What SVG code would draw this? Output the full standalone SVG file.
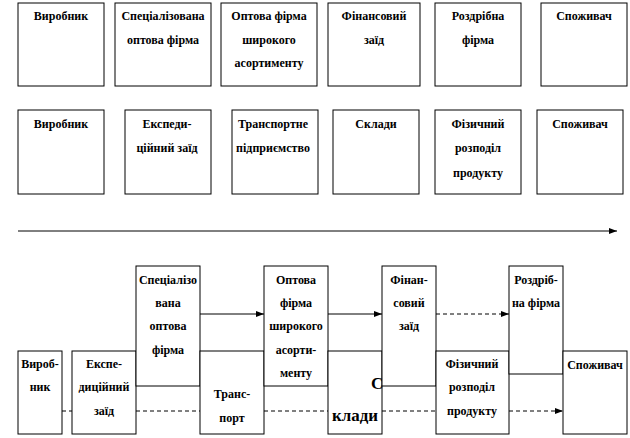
<svg xmlns="http://www.w3.org/2000/svg" width="630" height="438" viewBox="0 0 630 438">
<style>
.b{fill:#fff;stroke:#000;stroke-width:1}
.t{font-family:'Liberation Serif','DejaVu Serif',serif;font-weight:bold;font-size:12px;fill:#000;text-anchor:middle}
.big{font-family:'Liberation Serif','DejaVu Serif',serif;font-weight:bold;font-size:17px;fill:#000}
.c{stroke:#000;stroke-width:1;fill:none}
.d{stroke:#000;stroke-width:1;fill:none;stroke-dasharray:4 3}
</style>
<defs>
<marker id="ah" markerWidth="8" markerHeight="6" refX="8" refY="3" orient="auto" markerUnits="userSpaceOnUse">
<path d="M0,0 L8,3 L0,6 Z" fill="#000"/>
</marker>
</defs>
<rect width="630" height="438" fill="#fff"/>

<!-- Row 1 -->
<g id="r1n1"><rect class="b" x="18" y="3" width="86" height="83"/><text class="t" x="61" y="20">Виробник</text></g>
<g id="r1n2"><rect class="b" x="115" y="3" width="96" height="83"/><text class="t" x="163" y="20">Спеціалізована</text><text class="t" x="163" y="44">оптова фірма</text></g>
<g id="r1n3"><rect class="b" x="221" y="3" width="96" height="83"/><text class="t" x="269" y="20">Оптова фірма</text><text class="t" x="269" y="44">широкого</text><text class="t" x="269" y="67">асортименту</text></g>
<g id="r1n4"><rect class="b" x="328" y="3" width="92" height="83"/><text class="t" x="374" y="20">Фінансовий</text><text class="t" x="374" y="44">заїд</text></g>
<g id="r1n5"><rect class="b" x="435" y="3" width="86" height="83"/><text class="t" x="478" y="20">Роздрібна</text><text class="t" x="478" y="44">фірма</text></g>
<g id="r1n6"><rect class="b" x="541" y="3" width="86" height="83"/><text class="t" x="584" y="20">Споживач</text></g>

<!-- Row 2 -->
<g id="r2n1"><rect class="b" x="18" y="110" width="86" height="84"/><text class="t" x="61" y="128">Виробник</text></g>
<g id="r2n2"><rect class="b" x="125" y="110" width="86" height="84"/><text class="t" x="167" y="128">Експеди-</text><text class="t" x="167" y="152">ційний заїд</text></g>
<g id="r2n3"><rect class="b" x="232" y="110" width="86" height="84"/><text class="t" x="273" y="128">Транспортне</text><text class="t" x="273" y="152">підприємство</text></g>
<g id="r2n4"><rect class="b" x="333" y="110" width="86" height="84"/><text class="t" x="376" y="128">Склади</text></g>
<g id="r2n5"><rect class="b" x="435" y="110" width="86" height="84"/><text class="t" x="478" y="128">Фізичний</text><text class="t" x="478" y="152">розподіл</text><text class="t" x="478" y="177">продукту</text></g>
<g id="r2n6"><rect class="b" x="537" y="110" width="86" height="84"/><text class="t" x="580" y="128">Споживач</text></g>

<!-- Bottom -->
<g id="b1"><rect class="b" x="18" y="351" width="44" height="83"/><text class="t" x="40" y="368">Вироб-</text><text class="t" x="40" y="391">ник</text></g>
<g id="b2"><rect class="b" x="72" y="351" width="64" height="83"/><text class="t" x="104" y="368">Експе-</text><text class="t" x="104" y="391">диційний</text><text class="t" x="104" y="415">заїд</text></g>
<g id="b3"><rect class="b" x="136" y="266" width="64" height="120"/><text class="t" x="168" y="284">Спеціалізо</text><text class="t" x="168" y="307">вана</text><text class="t" x="168" y="330">оптова</text><text class="t" x="168" y="354">фірма</text></g>
<g id="b4"><rect class="b" x="200" y="351" width="64" height="83"/><text class="t" x="232" y="398">Транс-</text><text class="t" x="232" y="422">порт</text></g>
<g id="b5"><rect class="b" x="264" y="266" width="64" height="120"/><text class="t" x="296" y="284">Оптова</text><text class="t" x="296" y="307">фірма</text><text class="t" x="296" y="330">широкого</text><text class="t" x="296" y="354">асорти-</text><text class="t" x="296" y="377">менту</text></g>
<g id="b6"><rect class="b" x="328" y="351" width="54" height="83"/><text class="big" x="371" y="389">С</text><text class="big" x="332" y="421" textLength="46" lengthAdjust="spacingAndGlyphs">клади</text></g>
<g id="b7"><rect class="b" x="382" y="266" width="54" height="120"/><text class="t" x="409" y="284">Фінан-</text><text class="t" x="409" y="307">совий</text><text class="t" x="409" y="330">заїд</text></g>
<g id="b8"><rect class="b" x="436" y="351" width="73" height="83"/><text class="t" x="472" y="368">Фізичний</text><text class="t" x="472" y="391">розподіл</text><text class="t" x="472" y="415">продукту</text></g>
<g id="b9"><rect class="b" x="509" y="266" width="54" height="108"/><text class="t" x="536" y="284">Роздріб-</text><text class="t" x="536" y="307">на фірма</text></g>
<g id="b10"><rect class="b" x="563" y="351" width="64" height="83"/><text class="t" x="595" y="369">Споживач</text></g>

<g id="connectors">
<line class="c" x1="18" y1="231" x2="617" y2="231" marker-end="url(#ah)"/>
<line class="c" x1="200" y1="314" x2="264" y2="314" marker-end="url(#ah)"/>
<line class="c" x1="328" y1="314" x2="382" y2="314" marker-end="url(#ah)"/>
<line class="d" x1="436" y1="314" x2="509" y2="314" marker-end="url(#ah)"/>
<line class="d" x1="62" y1="411" x2="72" y2="411"/>
<line class="d" x1="136" y1="411" x2="200" y2="411"/>
<line class="d" x1="264" y1="411" x2="328" y2="411"/>
<line class="d" x1="382" y1="411" x2="436" y2="411"/>
<line class="d" x1="509" y1="411" x2="563" y2="411" marker-end="url(#ah)"/>
</g>
</svg>
